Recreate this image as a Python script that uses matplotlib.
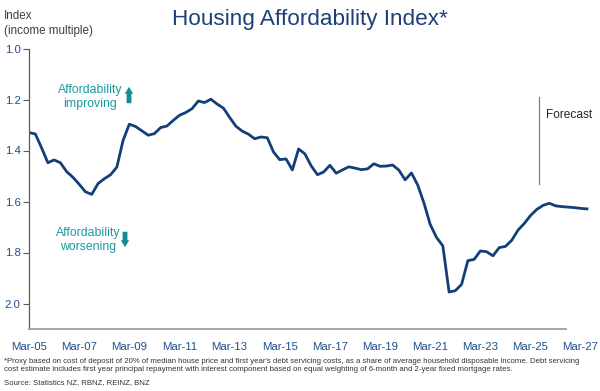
import matplotlib
matplotlib.use("Agg")
import matplotlib.dates as mdates
import matplotlib.pyplot as plt
import pandas as pd

# Quarterly index values (income multiple), Mar-05 onwards, forecast from mid-2025
index_values = [
    1.330, 1.335, 1.390, 1.448, 1.437, 1.448, 1.483, 1.505,
    1.532, 1.562, 1.572, 1.530, 1.511, 1.495, 1.465, 1.360,
    1.297, 1.306, 1.323, 1.340, 1.334, 1.310, 1.304, 1.282,
    1.262, 1.251, 1.236, 1.206, 1.212, 1.199, 1.218, 1.234,
    1.270, 1.305, 1.324, 1.336, 1.354, 1.347, 1.350, 1.406,
    1.436, 1.433, 1.476, 1.394, 1.413, 1.460, 1.495, 1.484,
    1.458, 1.489, 1.476, 1.464, 1.469, 1.475, 1.472, 1.452,
    1.462, 1.461, 1.457, 1.477, 1.515, 1.488, 1.536, 1.607,
    1.690, 1.741, 1.774, 1.955, 1.950, 1.925, 1.832, 1.827,
    1.794, 1.797, 1.813, 1.781, 1.776, 1.752, 1.712, 1.686,
    1.655, 1.631, 1.615, 1.607, 1.617, 1.620, 1.622, 1.624,
    1.627, 1.629,
]
dates = pd.date_range("2005-03-01", periods=len(index_values), freq="3MS")

tick_dates = pd.date_range("2005-03-01", "2027-03-01", freq="24MS")
tick_labels = [d.strftime("Mar-%y") for d in tick_dates]
y_ticks = [1.0, 1.2, 1.4, 1.6, 1.8, 2.0]

forecast_start = pd.Timestamp("2025-07-01")

navy = "#123f7a"
label_navy = "#1f4e8c"
teal = "#1a9aa0"

plt.rcParams["font.family"] = ["Liberation Sans", "DejaVu Sans"]

fig = plt.figure(figsize=(6, 3.91), dpi=100)
ax = fig.add_axes([29 / 600, 1 - 329 / 391, 560 / 600, 280.5 / 391])

ax.plot(dates, index_values, color=navy, lw=2.0, solid_joinstyle="round")

ax.set_ylim(2.1, 1.0)
ax.set_xlim(pd.Timestamp("2005-03-01"), pd.Timestamp("2027-07-01"))
ax.set_yticks(y_ticks)
ax.set_yticklabels([f"{v:.1f}" for v in y_ticks])
ax.set_xticks(tick_dates)
ax.set_xticklabels(tick_labels)

ax.tick_params(axis="y", length=4, width=0.8, color="#595959", labelsize=8.2,
               labelcolor=label_navy, pad=2)
ax.tick_params(axis="x", length=0, labelsize=8.2, labelcolor=label_navy, pad=9)

for side in ("top", "right"):
    ax.spines[side].set_visible(False)
ax.spines["left"].set_color("#595959")
ax.spines["left"].set_linewidth(0.9)
ax.spines["bottom"].set_color("#a6a6a6")
ax.spines["bottom"].set_linewidth(1.4)
ax.spines["bottom"].set_bounds(mdates.date2num(pd.Timestamp("2005-03-01")),
                               mdates.date2num(pd.Timestamp("2026-08-01")))

# forecast marker
ax.plot([forecast_start, forecast_start], [1.19, 1.53], color="#7f7f7f", lw=0.9)
ax.text(pd.Timestamp("2025-10-15"), 1.26, "Forecast", fontsize=8.6, color="#262626",
        va="center", ha="left")

# affordability annotations
fig.text(90 / 600, 1 - 97 / 391, "Affordability\nimproving", color=teal, fontsize=8.8,
         ha="center", va="center", linespacing=1.15)
fig.text(88 / 600, 1 - 240 / 391, "Affordability\nworsening", color=teal, fontsize=8.8,
         ha="center", va="center", linespacing=1.15)
ax.annotate("", xy=(129 / 600, 1 - 84 / 391), xytext=(129 / 600, 1 - 106 / 391),
            xycoords="figure fraction",
            arrowprops=dict(arrowstyle="simple,head_length=0.5,head_width=0.6,tail_width=0.35",
                            color="#138e96", lw=0))
ax.annotate("", xy=(125 / 600, 1 - 250 / 391), xytext=(125 / 600, 1 - 229 / 391),
            xycoords="figure fraction",
            arrowprops=dict(arrowstyle="simple,head_length=0.5,head_width=0.6,tail_width=0.35",
                            color="#138e96", lw=0))

fig.text(310 / 600, 1 - 20 / 391, "Housing Affordability Index*", color="#1f3f78",
         fontsize=16.2, ha="center", va="center")
fig.text(4 / 600, 1 - 10 / 391, "Index\n(income multiple)", color="#404040", fontsize=8.4,
         ha="left", va="top", linespacing=1.3)

footnote = ("*Proxy based on cost of deposit of 20% of median house price and first year's debt "
            "servicing costs, as a share of average household disposable income. Debt servicing\n"
            "cost estimate includes first year principal repayment with interest component based "
            "on equal weighting of 6-month and 2-year fixed mortgage rates.")
fig.text(4 / 600, 1 - 365.5 / 391, footnote, color="#333333", fontsize=5.6, ha="left",
         va="center", linespacing=1.08)
fig.text(4 / 600, 1 - 383 / 391, "Source: Statistics NZ, RBNZ, REINZ, BNZ", color="#333333",
         fontsize=5.6, ha="left", va="center")

fig.savefig("out.png", dpi=100)
